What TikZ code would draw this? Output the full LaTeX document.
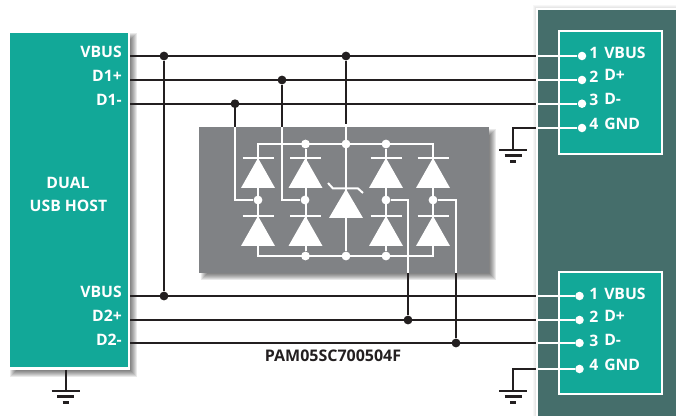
\documentclass[tikz,border=0pt]{standalone}
\usepackage{fontspec}
\setmainfont{Open Sans}
\usetikzlibrary{calc}
\definecolor{tealbox}{HTML}{12A898}
\definecolor{panel}{HTML}{456E6B}
\definecolor{chip}{HTML}{808285}
\definecolor{wire}{HTML}{231F20}
\tikzset{
  bk/.style={draw=wire,line width=1.5pt},
  wh/.style={draw=white,line width=1.5pt},
  lbl/.style={text=white,font=\bfseries\fontsize{11.8}{13}\selectfont,inner sep=0pt},
  lblr/.style={lbl,anchor=east},
  lbll/.style={lbl,anchor=west},
  ttl/.style={lbl,anchor=center},
  bdot/.style={circle,fill=wire,inner sep=0pt,minimum size=6.6pt},
  wdot/.style={circle,fill=white,inner sep=0pt,minimum size=6.6pt},
  pdot/.style={circle,fill=white,inner sep=0pt,minimum size=6.4pt},
}
% soft shadow towards the lower right
\newcommand{\softshadow}[4]{%
  \foreach \e in {0,1,...,8}{
    \fill[black,opacity=0.085] ({#1-\e+10},{#2-\e+10}) rectangle ({#3+\e-1},{#4+\e-1});
  }}
% diode with cathode bar on top: x, apex y, base y
\newcommand{\dioden}[3]{%
  \fill[white] (#1,#2) -- (#1+17,#3) -- (#1-17,#3) -- cycle;
  \draw[wh] (#1-15.5,#2) -- (#1+15.5,#2);}
\newcommand{\gnd}[2]{%
  \draw[wire,line width=1.6pt] (#1-14,#2) -- (#1+14,#2);
  \draw[wire,line width=1.6pt] (#1-8.5,#2+5.5) -- (#1+8.5,#2+5.5);
  \draw[wire,line width=1.6pt] (#1-3,#2+11.5) -- (#1+3,#2+11.5);}
\begin{document}
\begin{tikzpicture}[x=0.75pt,y=-0.75pt]
\useasboundingbox (0,0) rectangle (676,416);
\fill[white] (0,0) rectangle (676,416);

% right panel
\foreach \e in {0,1,2,3}{\fill[black,opacity=0.03] ({536-\e},{8-\e}) rectangle (676,416);}
\fill[white] (536,8) rectangle (676,416);
\fill[panel] (538,10) rectangle (676,416);

% left box
\softshadow{8}{31}{130}{370}
\fill[white] (8,31) rectangle (130,370);
\fill[tealbox] (10,33) rectangle (128,367);

% chip
\softshadow{199}{127}{489}{273}
\fill[chip] (199,127) rectangle (489,273);

% connector boxes
\fill[white] (558,30) rectangle (663,155);
\fill[tealbox] (560,32) rectangle (661,153);
\fill[white] (558,271) rectangle (663,395);
\fill[tealbox] (560,273) rectangle (661,393);

% coordinates
\coordinate (lv1) at (130,56);
\coordinate (lp1) at (130,80);
\coordinate (lm1) at (130,103.7);
\coordinate (lv2) at (130,296);
\coordinate (lp2) at (130,320);
\coordinate (lm2) at (130,343);
\coordinate (rv1) at (536,56);
\coordinate (rp1) at (536,80);
\coordinate (rm1) at (536,103.7);
\coordinate (rg1) at (536,128);
\coordinate (rv2) at (536,296);
\coordinate (rp2) at (536,320);
\coordinate (rm2) at (536,343);
\coordinate (rg2) at (536,369);

% pins
\node[pdot] (p1) at (582,56) {};
\node[pdot] (p2) at (582,80) {};
\node[pdot] (p3) at (582,103.7) {};
\node[pdot] (p4) at (582,128) {};
\node[pdot] (q1) at (579.5,296) {};
\node[pdot] (q2) at (579.5,320) {};
\node[pdot] (q3) at (579.5,343) {};
\node[pdot] (q4) at (579.5,369) {};

% black wires
\draw[bk] (lv1) -- (rv1);
\draw[bk] (lp1) -- (rp1);
\draw[bk] (lm1) -- (rm1);
\draw[bk] (lv2) -- (rv2);
\draw[bk] (lp2) -- (rp2);
\draw[bk] (lm2) -- (rm2);

% white wires to pins
\draw[wh] (rv1) -- (p1);
\draw[wh] (rp1) -- (p2);
\draw[wh] (rm1) -- (p3);
\draw[wh] (rg1) -- (p4);
\draw[wh] (rv2) -- (q1);
\draw[wh] (rp2) -- (q2);
\draw[wh] (rm2) -- (q3);
\draw[wh] (rg2) -- (q4);

% junctions on black wires
\node[bdot] (j1) at (164,56) {};
\node[bdot] (j2) at (164,296) {};
\node[bdot] (j3) at (235,103.7) {};
\node[bdot] (j4) at (282,80) {};
\node[bdot] (j5) at (346,56) {};
\node[bdot] (j6) at (408,320) {};
\node[bdot] (j7) at (456,343) {};
\coordinate (c3) at (235,127);
\coordinate (c4) at (282,127);
\coordinate (c5) at (346,124);
\coordinate (c6) at (408,273);
\coordinate (c7) at (456,273);
\draw[bk] (j1) -- (j2);
\draw[bk] (j3) -- (c3);
\draw[bk] (j4) -- (c4);
\draw[bk] (j5) -- (c5);
\draw[bk] (j6) -- (c6);
\draw[bk] (j7) -- (c7);

% grounds
\coordinate (g1) at (513,150);
\coordinate (g2) at (513,391);
\coordinate (g3) at (65.5,391);
\coordinate (lb) at (65.5,370);
\draw[bk] (rg1) -| (g1);
\draw[bk] (rg2) -| (g2);
\draw[bk] (lb) -- (g3);
\gnd{513}{150}
\gnd{513}{391}
\gnd{65.5}{391}

% chip internals
\node[wdot] (t2) at (305.5,144) {};
\node[wdot] (t3) at (346,144) {};
\node[wdot] (t4) at (386,144) {};
\node[wdot] (b2) at (305.5,256) {};
\node[wdot] (b3) at (346,256) {};
\node[wdot] (b4) at (386,256) {};
\node[wdot] (m1) at (258,200) {};
\node[wdot] (m2) at (305,200) {};
\node[wdot] (m4) at (386,200) {};
\node[wdot] (m5) at (433,200) {};
\coordinate (t1) at (258,144);
\coordinate (t5) at (433,144);
\coordinate (b1) at (258,256);
\coordinate (b5) at (433,256);
\draw[wh,line join=miter] (m1.center) -- (t1) -- (t5) -- (m5.center) -- (b5) -- (b1) -- (m1.center);
\draw[wh] (t2) -- (b2);
\draw[wh] (t4) -- (b4);
\draw[wh] (c5) -- (b3);
\draw[wh] (c3) |- (m1);
\draw[wh] (c4) |- (m2);
\draw[wh] (m4) -| (c6);
\draw[wh] (m5) -| (c7);
\foreach \x in {258,305.5,386,433}{
  \dioden{\x}{158}{188}
  \dioden{\x}{216}{246}
}
\fill[white] (346,189) -- (363,218) -- (329,218) -- cycle;
\draw[wh,line join=miter] (328,183) -- (333,188.5) -- (358,188.5) -- (363,193);

% labels
\node[lblr] (a1) at (122,51.5) {VBUS};
\node[lblr] (a2) at (122,76) {D1+};
\node[lblr] (a3) at (122,100) {D1-};
\node[ttl] (a4) at (68,182.5) {DUAL};
\node[ttl] (a5) at (68.5,206) {USB HOST};
\node[lblr] (a6) at (122,291.5) {VBUS};
\node[lblr] (a7) at (122,315.5) {D2+};
\node[lblr] (a8) at (122,340) {D2-};

\node[lbll] (n1) at (589,53) {1};
\node[lbll] (n2) at (589,77) {2};
\node[lbll] (n3) at (589,99.5) {3};
\node[lbll] (n4) at (589,124) {4};
\node[lbll] (s1) at (604,52.5) {VBUS};
\node[lbll] (s2) at (604,75) {D+};
\node[lbll] (s3) at (604,98.5) {D-};
\node[lbll] (s4) at (604,123.5) {GND};

\node[lbll] (m1l) at (589,294) {1};
\node[lbll] (m2l) at (589,317) {2};
\node[lbll] (m3l) at (589,341) {3};
\node[lbll] (m4l) at (589,365) {4};
\node[lbll] (u1) at (604,293.5) {VBUS};
\node[lbll] (u2) at (604,315.5) {D+};
\node[lbll] (u3) at (604,339.5) {D-};
\node[lbll] (u4) at (604,364.5) {GND};

\node[text=wire,font=\bfseries\fontsize{12}{13}\selectfont,inner sep=0pt] (part) at (333,355.5) {PAM05SC700504F};
\end{tikzpicture}
\end{document}
